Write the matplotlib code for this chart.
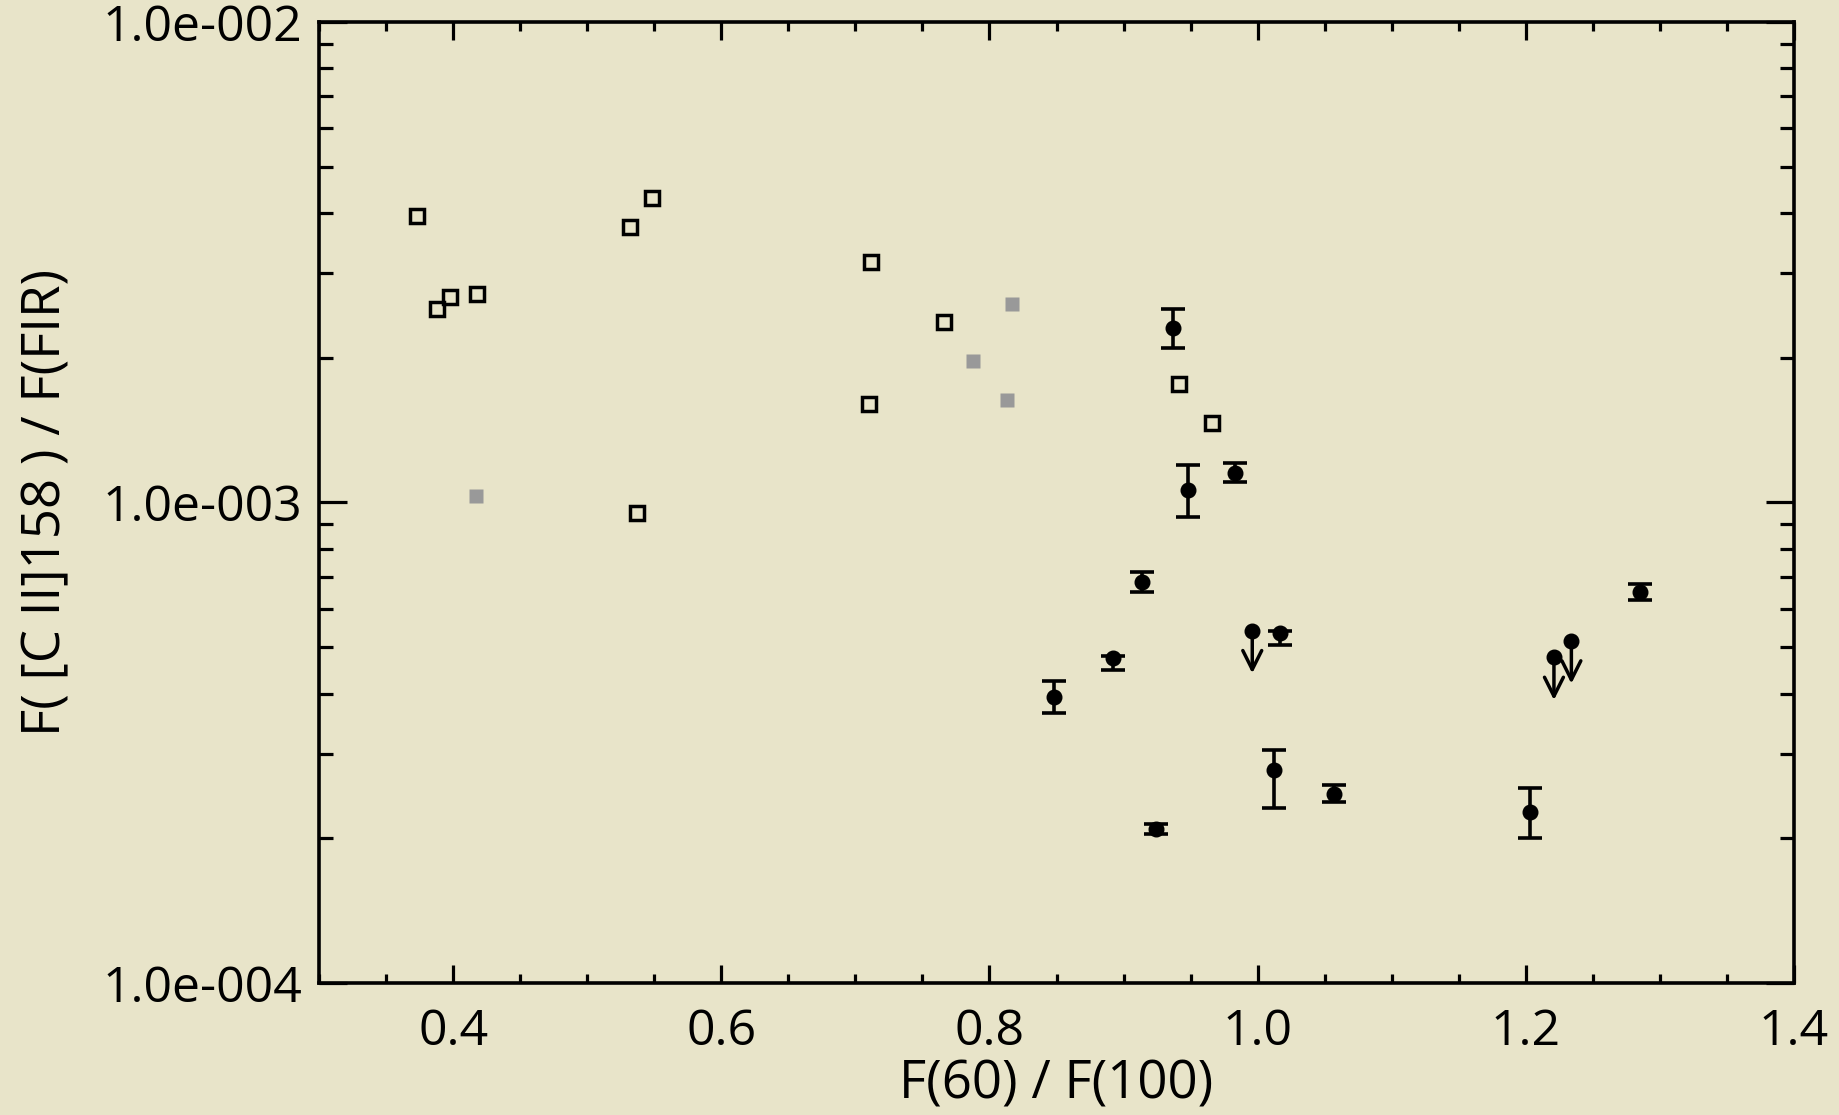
"""
[C II]158 / FIR ratio against the IRAS F(60)/F(100) colour, log y axis.
"""

import matplotlib
matplotlib.use("Agg")
import matplotlib.pyplot as plt
from matplotlib.ticker import FixedLocator, MultipleLocator, FuncFormatter, LogLocator

plt.rcParams["font.family"] = ["Open Sans", "DejaVu Sans"]

BG = "#E8E4C9"

# open squares
open_x = [0.373, 0.388, 0.398, 0.418, 0.532, 0.548, 0.537, 0.712, 0.710, 0.766, 0.941, 0.966]
open_y = [3.94e-3, 2.53e-3, 2.67e-3, 2.72e-3, 3.75e-3, 4.31e-3, 9.52e-4, 3.17e-3,
          1.60e-3, 2.375e-3, 1.764e-3, 1.461e-3]

# grey filled squares
gray_x = [0.417, 0.788, 0.817, 0.813]
gray_y = [1.033e-3, 1.969e-3, 2.593e-3, 1.633e-3]

# detections with error bars (lower / upper ends of the bar)
det_x = [0.937, 0.948, 0.983, 0.914, 0.8925, 0.848, 0.924, 1.017, 1.012, 1.057, 1.2035, 1.285]
det_y = [2.305e-3, 1.062e-3, 1.153e-3, 6.83e-4, 4.75e-4, 3.94e-4, 2.096e-4, 5.36e-4,
         2.774e-4, 2.47e-4, 2.272e-4, 6.50e-4]
det_lo = [2.092e-3, 9.34e-4, 1.101e-3, 6.52e-4, 4.48e-4, 3.64e-4, 2.038e-4, 5.05e-4,
          2.316e-4, 2.377e-4, 2.006e-4, 6.26e-4]
det_hi = [2.522e-3, 1.196e-3, 1.207e-3, 7.18e-4, 4.80e-4, 4.24e-4, 2.142e-4, 5.40e-4,
          3.054e-4, 2.582e-4, 2.549e-4, 6.76e-4]

# upper limits
lim_x = [0.996, 1.221, 1.234]
lim_y = [5.41e-4, 4.76e-4, 5.15e-4]

x_ticks = [0.4, 0.6, 0.8, 1.0, 1.2, 1.4]
y_ticks = [1e-4, 1e-3, 1e-2]

ARROW_DROP = 0.815   # arrow tip sits this factor below the point (fixed length on log axis)


def sci(v, _pos=None):
    exp = 0
    m = v
    while m >= 10:
        m /= 10
        exp += 1
    while m < 1:
        m *= 10
        exp -= 1
    return f"{m:.1f}e{exp:+04d}"


fig = plt.figure(figsize=(18.39, 11.15), dpi=100, facecolor=BG)
ax = fig.add_axes([0.1735, 0.1184, 0.802, 0.8620])
ax.set_facecolor(BG)
ax.set_yscale("log")
ax.set_xlim(0.3, 1.4)
ax.set_ylim(1e-4, 1e-2)

err_lo = [y - lo for y, lo in zip(det_y, det_lo)]
err_hi = [hi - y for y, hi in zip(det_y, det_hi)]
ax.errorbar(det_x, det_y, yerr=[err_lo, err_hi], fmt="o", color="black", ms=10.5,
            elinewidth=2.6, capsize=8.5, capthick=2.6, zorder=3)

ax.plot(lim_x, lim_y, "o", color="black", ms=10.5, zorder=3)
for x, y in zip(lim_x, lim_y):
    ax.annotate("", xy=(x, y * ARROW_DROP), xytext=(x, y),
                arrowprops=dict(arrowstyle="->", lw=2.5, color="black",
                                mutation_scale=34, shrinkA=0, shrinkB=0))

ax.plot(open_x, open_y, "s", mfc="none", mec="black", mew=2.5, ms=10.5, zorder=3)
ax.plot(gray_x, gray_y, "s", color="#999999", mec="none", ms=10.5, zorder=3)

ax.xaxis.set_major_locator(FixedLocator(x_ticks))
ax.xaxis.set_minor_locator(MultipleLocator(0.05))
ax.xaxis.set_major_formatter(FuncFormatter(lambda v, p: f"{v:.1f}"))
ax.yaxis.set_major_locator(FixedLocator(y_ticks))
ax.yaxis.set_minor_locator(LogLocator(base=10, subs=range(2, 10)))
ax.yaxis.set_major_formatter(FuncFormatter(sci))
ax.yaxis.set_minor_formatter(FuncFormatter(lambda v, p: ""))

for s in ax.spines.values():
    s.set_linewidth(2.6)
ax.tick_params(which="both", direction="in", top=True, right=True,
               width=2.3, labelsize=36, colors="black")
ax.tick_params(axis="x", which="major", length=13, pad=18)
ax.tick_params(axis="x", which="minor", length=6.5)
ax.tick_params(axis="y", which="major", length=20, pad=12)
ax.tick_params(axis="y", which="minor", length=10)

fig.text(0.5745, 1 - 1085 / 1115, "F(60) / F(100)", fontsize=38,
         ha="center", va="center")
fig.text(47 / 1839, 0.5496, "F( [C II]158 ) / F(FIR)", fontsize=38,
         ha="center", va="center", rotation=90)

fig.savefig("out.png", dpi=100, facecolor=BG)
